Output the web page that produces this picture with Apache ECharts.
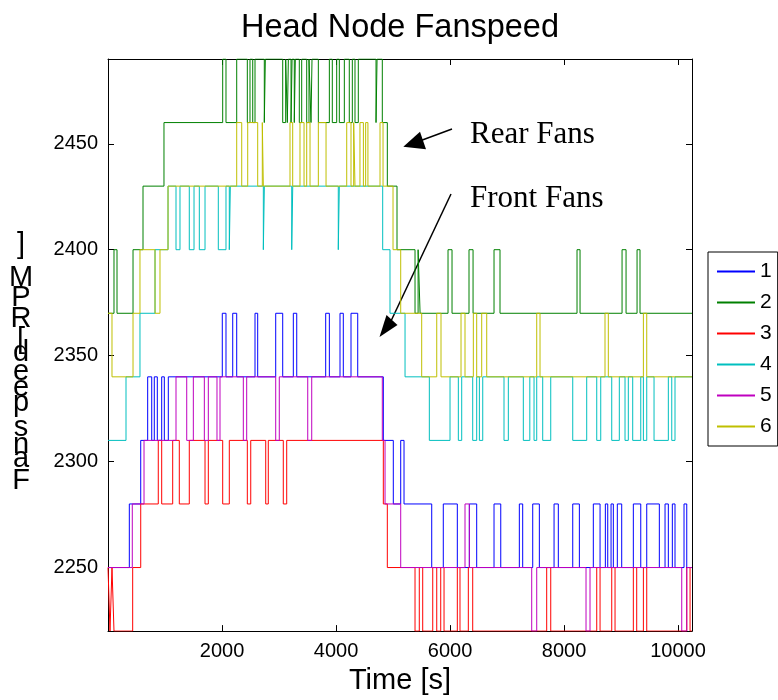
<!DOCTYPE html>
<html><head><meta charset="utf-8">
<script src="https://cdn.jsdelivr.net/npm/echarts@6/dist/echarts.min.js"></script>
<style>html,body{margin:0;padding:0;background:#fff}#c{width:778px;height:700px}</style>
</head><body><div id="c"></div>
<script>
// ---- data (time [s], fan speed [RPM]) as change points ----
const seriesNames = ['1','2','3','4','5','6'];
const fan1 = [[0,2250],[374,2280],[574,2310],[696,2340],[767,2310],[812,2340],[865,2310],[942,2340],[988,2310],[1058,2340],[2005,2370],[2070,2340],[2188,2370],[2258,2340],[2579,2370],[2626,2340],[2942,2370],[3065,2340],[3251,2370],[3311,2340],[3819,2370],[3883,2340],[4070,2370],[4128,2340],[4263,2370],[4381,2340],[4830,2310],[5005,2280],[5135,2310],[5193,2280],[5679,2250],[5882,2280],[6128,2250],[6339,2280],[6468,2250],[6772,2280],[6890,2250],[7216,2280],[7275,2250],[7451,2280],[7567,2250],[7825,2280],[7900,2250],[8153,2280],[8269,2250],[8514,2280],[8632,2250],[8725,2280],[8767,2250],[8825,2280],[8865,2250],[8935,2280],[9012,2250],[9216,2280],[9346,2250],[9451,2280],[9672,2250],[9772,2280],[9830,2250],[9900,2280],[9947,2250],[10105,2280],[10153,2250],[10245,2250]];
const fan2 = [[0,2370],[105,2400],[158,2370],[439,2400],[614,2430],[982,2460],[2012,2490],[2070,2460],[2258,2490],[2444,2460],[2491,2490],[2539,2460],[2579,2490],[2742,2460],[2760,2490],[3065,2460],[3117,2490],[3146,2460],[3164,2490],[3211,2460],[3229,2490],[3268,2460],[3286,2490],[3356,2460],[3398,2490],[3486,2460],[3526,2490],[3561,2460],[3579,2490],[3690,2460],[3883,2490],[3935,2460],[4012,2490],[4058,2460],[4146,2490],[4233,2460],[4286,2490],[4333,2460],[4391,2490],[4702,2460],[4720,2490],[4812,2460],[4900,2430],[5070,2400],[5386,2370],[5440,2400],[5475,2370],[5965,2400],[6035,2370],[6333,2400],[6404,2370],[6772,2400],[6877,2370],[8228,2400],[8281,2370],[9018,2400],[9088,2370],[9281,2400],[9333,2370],[10245,2370]];
const fan3 = [[0,2250],[35,2220],[70,2250],[105,2220],[433,2250],[574,2280],[882,2310],[942,2280],[1135,2310],[1251,2280],[1426,2310],[1702,2280],[1760,2310],[2012,2280],[2128,2310],[2444,2280],[2504,2310],[2767,2280],[2812,2310],[3075,2280],[3135,2310],[4830,2280],[4900,2250],[5386,2220],[5461,2250],[5521,2220],[5697,2250],[5767,2220],[5837,2250],[5895,2220],[6128,2250],[6175,2220],[6321,2250],[6398,2220],[7696,2250],[7767,2220],[8574,2250],[8632,2220],[8837,2250],[8895,2220],[9216,2250],[9275,2220],[9392,2250],[9451,2220],[10153,2250],[10211,2220],[10245,2220]];
const fan4 = [[0,2310],[316,2340],[561,2370],[825,2400],[1053,2430],[1193,2400],[1263,2430],[1426,2400],[1509,2430],[1602,2400],[1702,2430],[1935,2400],[2070,2430],[2128,2400],[2146,2430],[2725,2400],[2743,2430],[3223,2400],[3241,2430],[4040,2400],[4058,2430],[4819,2400],[4947,2370],[5211,2340],[5637,2310],[6000,2340],[6146,2310],[6205,2340],[6398,2310],[6468,2340],[6515,2310],[6574,2340],[6947,2310],[7023,2340],[7286,2310],[7400,2340],[7474,2310],[7521,2340],[7626,2310],[7767,2340],[8153,2310],[8398,2340],[8574,2310],[8644,2340],[8837,2310],[8970,2340],[9070,2310],[9128,2340],[9205,2310],[9346,2340],[9392,2310],[9451,2340],[9579,2310],[9830,2340],[9890,2310],[9947,2340],[10245,2340]];
const fan5 = [[0,2250],[426,2280],[632,2310],[1193,2340],[1381,2310],[1497,2340],[1690,2310],[1760,2340],[1912,2310],[1965,2340],[2374,2310],[2433,2340],[2942,2310],[3005,2340],[3504,2310],[3574,2340],[4812,2310],[4860,2280],[5135,2250],[6263,2280],[6339,2250],[7433,2220],[7521,2250],[8386,2220],[8456,2250],[10065,2220],[10153,2250],[10245,2250]];
const fan6 = [[0,2370],[70,2340],[439,2370],[561,2400],[825,2370],[912,2400],[1053,2430],[2258,2460],[2346,2430],[2451,2460],[2626,2430],[2707,2460],[2725,2430],[3193,2460],[3240,2430],[3368,2460],[3439,2430],[3486,2460],[3544,2430],[3690,2460],[3825,2430],[4188,2460],[4263,2430],[4310,2460],[4333,2430],[4420,2460],[4480,2430],[4520,2460],[4560,2430],[4772,2460],[4825,2430],[5000,2400],[5135,2370],[5503,2340],[5767,2370],[5842,2340],[6193,2370],[6263,2340],[6409,2370],[6468,2340],[6556,2370],[6644,2340],[7521,2370],[7579,2340],[8719,2370],[8777,2340],[9392,2370],[9451,2340],[10245,2340]];
const xTicks = [2000,4000,6000,8000,10000];
const yTicks = [2250,2300,2350,2400,2450];
const xRange = [0,10245];
const yRange = [2220,2490];
const titleText = 'Head Node Fanspeed';
const xName = 'Time [s]';
const yName = 'Fanspeed [RPM]';
const notes = ['Rear Fans','Front Fans'];

// ---- styling ----
const fans = [fan1,fan2,fan3,fan4,fan5,fan6];
const colors = ['#0000ff','#008000','#ff0000','#00bfbf','#bf00bf','#bfbf00'];
const SANS = '"Liberation Sans", Arial, sans-serif';
const SERIF = '"Liberation Serif", "Times New Roman", serif';

const chart = echarts.init(document.getElementById('c'), null, {renderer:'canvas'});

// stacked (unrotated) glyphs of the y label, from top to bottom
const yChars = yName.split('').reverse().filter(c => c !== ' ');
const yCharY = [245,278,298,319,340,353,372,388,403,428,445,459,481];
const yLabelGraphics = yChars.map((c,i) => ({
  type:'text', x: 21, y: yCharY[i],
  style:{text:c, font:'29px ' + SANS, fill:'#000', textAlign:'center', textVerticalAlign:'middle'}
}));

const axisCommon = {
  axisLine:{show:true, onZero:false, lineStyle:{color:'#000', width:1}},
  splitLine:{show:false}
};
const plain = v => String(v);

const option = {
  animation:false,
  backgroundColor:'#fff',
  color: colors,
  title:{text:titleText, left:395, top:7, textAlign:'center',
    textStyle:{fontFamily:SANS, fontSize:32.5, fontWeight:'normal', color:'#000'}},
  grid:{left:108, right:86, top:59, bottom:68, containLabel:false},
  legend:{
    orient:'vertical', left:708, top:252, icon:'rect', itemWidth:38, itemHeight:2,
    itemGap:10, padding:[9,6,9,9], borderColor:'#000', borderWidth:1, backgroundColor:'#fff',
    textStyle:{fontFamily:SANS, fontSize:21, color:'#000', lineHeight:20},
    data: seriesNames.map((n,i) => ({name:n, itemStyle:{color:colors[i]}}))
  },
  xAxis:[
    Object.assign({type:'value', min:xRange[0], max:xRange[1], position:'bottom',
      name:xName, nameLocation:'middle', nameGap:32,
      nameTextStyle:{fontFamily:SANS, fontSize:29, color:'#000'},
      axisTick:{show:true, inside:true, length:6, customValues:xTicks, lineStyle:{color:'#000'}},
      axisLabel:{show:true, margin:10, customValues:xTicks, formatter:plain, fontFamily:SANS, fontSize:20, color:'#000'}}, axisCommon),
    Object.assign({type:'value', min:xRange[0], max:xRange[1], position:'top',
      axisTick:{show:true, inside:true, length:6, customValues:xTicks, lineStyle:{color:'#000'}},
      axisLabel:{show:false}}, axisCommon)
  ],
  yAxis:[
    Object.assign({type:'value', min:yRange[0], max:yRange[1], position:'left',
      axisTick:{show:true, inside:true, length:6, customValues:yTicks, lineStyle:{color:'#000'}},
      axisLabel:{show:true, margin:10, customValues:yTicks, formatter:plain, fontFamily:SANS, fontSize:20, color:'#000'}}, axisCommon),
    Object.assign({type:'value', min:yRange[0], max:yRange[1], position:'right',
      axisTick:{show:true, inside:true, length:6, customValues:yTicks, lineStyle:{color:'#000'}},
      axisLabel:{show:false}}, axisCommon)
  ],
  series: fans.map((d,i) => ({
    name: seriesNames[i], type:'line', step:'end', data:d, symbol:'none',
    xAxisIndex:0, yAxisIndex:0, clip:true,
    lineStyle:{width:1, color:colors[i]}, itemStyle:{color:colors[i]}
  })),
  graphic: [].concat(yLabelGraphics, [
    {type:'text', x:470, y:135, style:{text:notes[0], font:'31px ' + SERIF, fill:'#000', textVerticalAlign:'middle'}},
    {type:'text', x:470, y:199, style:{text:notes[1], font:'31px ' + SERIF, fill:'#000', textVerticalAlign:'middle'}},
    {type:'line', shape:{x1:452, y1:129, x2:421, y2:140.5}, style:{stroke:'#000', lineWidth:1.5}},
    {type:'polygon', shape:{points:[[403.3,146.7],[420,131.7],[426,149.3]]}, style:{fill:'#000'}},
    {type:'line', shape:{x1:451, y1:194, x2:391, y2:321}, style:{stroke:'#000', lineWidth:1.5}},
    {type:'polygon', shape:{points:[[379.5,337],[386.5,315],[397.5,325]]}, style:{fill:'#000'}}
  ])
};
chart.setOption(option);
</script>
</body></html>
